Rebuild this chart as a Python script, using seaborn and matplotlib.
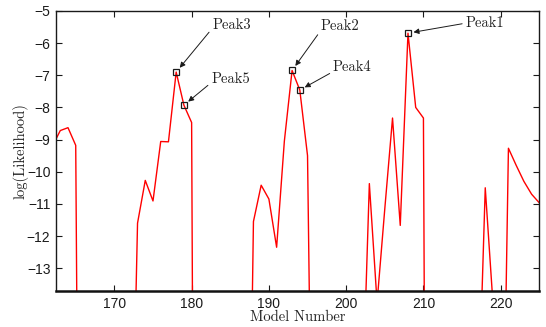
import matplotlib
matplotlib.use('Agg')
import matplotlib.pyplot as plt
import numpy as np
import pandas as pd
import seaborn as sns

# log-likelihood per model number (values far below the axis are off-chart)
model_number = list(range(162, 226))
log_likelihood = [
    -9.2, -8.72, -8.63, -9.18, -44.0, -40.0, -40.0, -40.0, -40.0, -40.0,
    -22.6, -11.6, -10.27, -10.91, -9.06, -9.07, -6.9, -7.93, -8.47, -60.0,
    -40.0, -40.0, -40.0, -40.0, -40.0, -28.0, -11.55, -10.42, -10.85, -12.35,
    -9.05, -6.85, -7.46, -9.5, -28.0, -40.0, -40.0, -40.0, -40.0, -40.0,
    -18.0, -10.37, -14.07, -11.15, -8.33, -11.67, -5.69, -8.0, -8.33, -60.0,
    -40.0, -40.0, -40.0, -40.0, -40.0, -18.3, -10.5, -14.1, -24.0, -9.27,
    -9.8, -10.3, -10.7, -10.97,
]

peak_labels = ['Peak1', 'Peak2', 'Peak3', 'Peak4', 'Peak5']
peak_models = [208, 193, 178, 194, 179]
peak_values = [-5.69, -6.85, -6.9, -7.46, -7.93]
label_x = [215.43, 196.74, 182.68, 198.29, 182.53]
label_y = [-5.38, -5.47, -5.43, -6.76, -7.11]
label_anchor = [0.5, 0.2, 0.25, 0.2, 0.22]

df = pd.DataFrame({'model': model_number, 'loglik': log_likelihood})

sns.set_theme(style='ticks')
plt.rcParams['font.family'] = ['Liberation Sans', 'DejaVu Sans']
plt.rcParams['axes.unicode_minus'] = True

fig = plt.figure(figsize=(5.46, 3.27), dpi=100)
ax = fig.add_axes([0.1026, 0.1092, 0.8852, 0.8572])

sns.lineplot(data=df, x='model', y='loglik', color='red', linewidth=1.0,
             ax=ax, sort=False)
ax.plot(peak_models, peak_values, ls='none', marker='s', ms=4.6,
        mfc='none', mec='k', mew=0.9)

for lab, px, py, tx, ty, rp in zip(peak_labels, peak_models, peak_values,
                                   label_x, label_y, label_anchor):
    ax.annotate(lab, xy=(px, py), xytext=(tx, ty), textcoords='data',
                ha='left', va='center', fontsize=10.5, family='cmr10',
                color='#222222',
                arrowprops=dict(arrowstyle='-|>', color='k', lw=0.7,
                                mutation_scale=8, shrinkA=0, shrinkB=4,
                                relpos=(0, rp)))

ax.set_xlim(162.45, 225)
ax.set_ylim(-13.72, -5)
ax.set_xticks([170, 180, 190, 200, 210, 220])
ax.set_yticks([-13, -12, -11, -10, -9, -8, -7, -6, -5])
ax.tick_params(direction='in', top=True, right=True, length=4, width=0.8,
               labelsize=10, colors='k', pad=4)
for side in ['top', 'right', 'left']:
    ax.spines[side].set_linewidth(1.0)
    ax.spines[side].set_color('k')
ax.spines['bottom'].set_linewidth(1.8)
ax.spines['bottom'].set_color('#111111')

ax.set_xlabel('Model Number', family='cmr10', fontsize=10.5, color='#222222',
              labelpad=-0.5)
ax.set_ylabel('log(Likelihood)', family='cmr10', fontsize=10.5,
              color='#222222', labelpad=-1)

fig.savefig('out.png', dpi=100)
